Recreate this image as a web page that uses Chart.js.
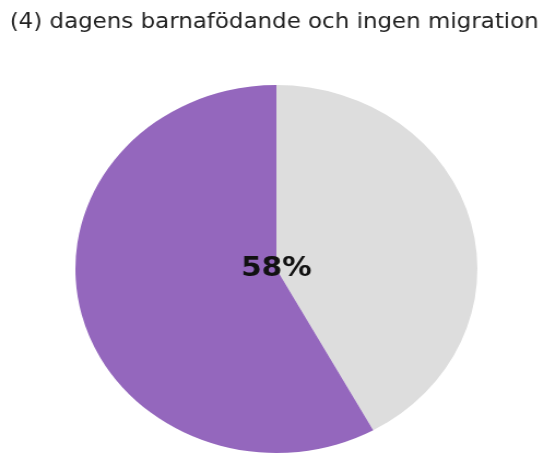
<!DOCTYPE html>
<html>
<head>
<meta charset="utf-8">
<script src="https://cdn.jsdelivr.net/npm/chart.js@4/dist/chart.umd.min.js"></script>
<style>
  body { margin: 0; background: #fff; overflow: hidden; }
  #wrap { width: 544px; height: 455px; overflow: hidden; }
  /* the reference is a bit wider than tall, so stretch the canvas sideways */
  #pie_chart { transform: scaleX(1.0924); transform-origin: 0 0; }
</style>
</head>
<body>
<div id="wrap">
  <canvas id="pie_chart" width="498" height="455"></canvas>
</div>
<script>
const titleText = "(4) dagens barnafödande och ingen migration";
const sliceLabels = ["övrigt", "andel"];
const sliceValues = [42, 58];
const sliceColors = ["#dddddd", "#9467bd"];
const labelledSlice = 1;

// title (drawn by hand so it is not squeezed into the pie's width)
// and the percentage of one slice in the middle of the pie
const pieTexts = {
    id: "pieTexts",
    afterDatasetsDraw(chart) {
        const ctx = chart.ctx;
        const arc = chart.getDatasetMeta(0).data[labelledSlice];
        ctx.save();
        ctx.textAlign = "center";

        ctx.font = "21px 'DejaVu Sans'";
        ctx.fillStyle = "#222";
        ctx.textBaseline = "alphabetic";
        ctx.fillText(titleText, 251, 28);

        ctx.font = "bold 27px 'DejaVu Sans'";
        ctx.fillStyle = "#111";
        ctx.textBaseline = "middle";
        ctx.fillText(sliceValues[labelledSlice] + "%", arc.x, arc.y);
        ctx.restore();
    }
};

const pie_ctx = document.getElementById("pie_chart");
var pie_chart = new Chart(pie_ctx, {
    type: "pie",
    data: {
        labels: sliceLabels,
        datasets: [{
            data: sliceValues,
            backgroundColor: sliceColors,
            borderWidth: 0,
            hoverOffset: 0
        }]
    },
    options: {
        responsive: false,
        animation: false,
        devicePixelRatio: 1,
        rotation: 0,
        layout: {
            padding: { top: 85, bottom: 2, left: 53, right: 45 }
        },
        plugins: {
            legend: { display: false },
            tooltip: { enabled: false },
            title: { display: false }
        }
    },
    plugins: [pieTexts]
});
</script>
</body>
</html>
